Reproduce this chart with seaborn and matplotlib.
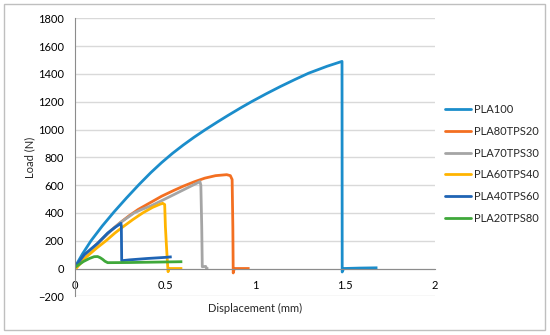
import matplotlib
matplotlib.use("Agg")
import matplotlib.pyplot as plt
import seaborn as sns
import pandas as pd
from matplotlib.patches import Rectangle
from matplotlib.lines import Line2D

# ---- data ----
series_names = ["PLA100", "PLA80TPS20", "PLA70TPS30", "PLA60TPS40", "PLA40TPS60", "PLA20TPS80"]

pla100_x = [0, 0.04, 0.087, 0.15, 0.216, 0.285, 0.355, 0.42, 0.48, 0.54, 0.6, 0.66, 0.721, 0.79,
            0.85, 0.92, 0.981, 1.06, 1.14, 1.22, 1.297, 1.4, 1.483, 1.484, 1.492, 1.58, 1.68]
pla100_y = [15, 105, 199, 306, 408, 508, 605, 690, 762, 828, 888, 944, 997, 1054,
            1102, 1156, 1201, 1256, 1309, 1359, 1405, 1455, 1490, -25, 0, 3, 5]

pla80_x = [0, 0.05, 0.1, 0.14, 0.2, 0.25, 0.3, 0.35, 0.42, 0.48, 0.55, 0.6, 0.662, 0.72, 0.78, 0.842,
           0.862, 0.872, 0.876, 0.878, 0.884, 0.969]
pla80_y = [0, 75, 148, 200, 275, 330, 380, 425, 476, 520, 563, 592, 624, 650, 668, 675,
           668, 640, 300, -32, 0, 0]

pla70_x = [0, 0.05, 0.1, 0.14, 0.2, 0.25, 0.3, 0.327, 0.37, 0.42, 0.48, 0.53, 0.6, 0.662, 0.693,
           0.698, 0.703, 0.706, 0.725, 0.73, 0.74]
pla70_y = [0, 78, 150, 200, 275, 330, 375, 400, 425, 450, 488, 520, 565, 605, 625,
           600, 300, 13, 15, 0, 0]

pla60_x = [0, 0.063, 0.12, 0.171, 0.22, 0.26, 0.32, 0.375, 0.43, 0.47, 0.486, 0.497, 0.501, 0.506,
           0.512, 0.516, 0.52, 0.595]
pla60_y = [-5, 85, 148, 200, 255, 295, 352, 400, 440, 462, 469, 460, 300, 181, 50, -23, 0, 0]

pla40_x = [0, 0.05, 0.124, 0.18, 0.22, 0.254, 0.256, 0.258, 0.3, 0.4, 0.5, 0.536]
pla40_y = [15, 100, 181, 255, 295, 325, 300, 56, 62, 72, 80, 84]

pla20_x = [0, 0.045, 0.08, 0.105, 0.124, 0.138, 0.152, 0.165, 0.18, 0.3, 0.4, 0.5, 0.595]
pla20_y = [10, 50, 73, 85, 86, 78, 66, 52, 42, 43, 45, 47, 49]

colors = ["#1b8dcb", "#f36f21", "#a5a5a5", "#ffb400", "#1f64b4", "#3fa83a"]

x_ticks = [0, 0.5, 1, 1.5, 2]
x_tick_labels = ["0", "0.5", "1", "1.5", "2"]
y_ticks = list(range(-200, 1801, 200))

# ---- build long table ----
all_x = [pla100_x, pla80_x, pla70_x, pla60_x, pla40_x, pla20_x]
all_y = [pla100_y, pla80_y, pla70_y, pla60_y, pla40_y, pla20_y]
frames = []
for name, xs, ys in zip(series_names, all_x, all_y):
    frames.append(pd.DataFrame({"x": xs, "y": ys, "series": name}))
df = pd.concat(frames, ignore_index=True)

sns.set_style("white")
plt.rcParams["font.family"] = ["Lato", "DejaVu Sans"]

W, H = 550, 335
fig = plt.figure(figsize=(W / 100, H / 100), dpi=100)
ax = fig.add_axes([75.3 / W, 1 - 296.3 / H, (435 - 75.3) / W, (296.3 - 18.3) / H])

palette = dict(zip(series_names, colors))
sns.lineplot(data=df, x="x", y="y", hue="series", hue_order=series_names, palette=palette,
             sort=False, estimator=None, units="series", linewidth=2.0, legend=False, ax=ax,
             solid_joinstyle="round", solid_capstyle="butt")

ax.set_xlim(0, 2)
ax.set_ylim(-200, 1800)
ax.set_xticks(x_ticks)
ax.set_xticklabels(x_tick_labels)
ax.set_yticks(y_ticks)
ax.set_xlabel("")
ax.set_ylabel("")

ax.yaxis.grid(True, color="#d9d9d9", linewidth=1.0)
ax.xaxis.grid(False)
ax.set_axisbelow(True)

for s in ["top", "right"]:
    ax.spines[s].set_visible(False)
ax.spines["left"].set_color("#8c8c8c")
ax.spines["left"].set_linewidth(0.8)
ax.spines["bottom"].set_position(("data", 0))
ax.spines["bottom"].set_color("#8c8c8c")
ax.spines["bottom"].set_linewidth(0.8)

ax.tick_params(axis="both", which="major", labelsize=8, colors="#8c8c8c", labelcolor="#000000",
               length=3, width=0.8, direction="out")
ax.tick_params(axis="x", pad=5.5)
ax.tick_params(axis="y", pad=5)

fig.text(255 / W, 1 - 308 / H, "Displacement (mm)", ha="center", va="center", fontsize=8)
fig.text(30 / W, 1 - 157 / H, "Load (N)", ha="center", va="center", rotation=90, fontsize=8)

handles = [Line2D([0], [0], color=c, lw=2.0) for c in colors]
fig.legend(handles, series_names, loc="upper left", bbox_to_anchor=(445 / W, 1 - 104 / H),
           frameon=False, fontsize=8, handlelength=2.3, handletextpad=0.3, labelspacing=0.97,
           borderpad=0, borderaxespad=0)

fig.patches.append(Rectangle((4 / W, 1 - 330 / H), (545 - 4) / W, (330 - 4) / H,
                             transform=fig.transFigure, fill=False, edgecolor="#bfbfbf", linewidth=1.0))

fig.savefig("out.png", dpi=100)
